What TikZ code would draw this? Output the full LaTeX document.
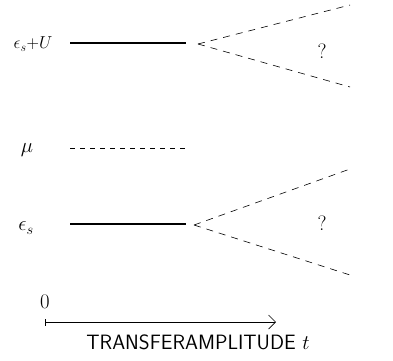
\documentclass[tikz,border=0pt]{standalone}
\usepackage{amsmath}
\usetikzlibrary{arrows.meta}

\begin{document}
\begin{tikzpicture}[x=1pt, y=1pt, >={Straight Barb[length=7pt]}, font=\LARGE,
  level/.style={line width=1.1pt},
  fan/.style={dashed, dash pattern=on 7pt off 6pt, line width=0.6pt}]

\useasboundingbox (0,0) rectangle (393,360);

% upper level eps_s + U, splitting into a band
\node (lU) at (33,316) {$\epsilon_s{+}U$};
\coordinate (U0) at (70,317);
\coordinate (U1) at (186,317);
\draw[level] (U0) -- (U1);
\coordinate (Ua) at (198,316);
\coordinate (Uhi) at (350,355);
\coordinate (Ulo) at (350,273);
\draw[fan] (Ua) -- (Uhi);
\draw[fan] (Ua) -- (Ulo);
\node[font=\huge] (qU) at (322,309) {?};

% chemical potential
\node[font=\huge] (lmu) at (27,210) {$\mu$};
\coordinate (m0) at (70,212);
\coordinate (m1) at (188,212);
\draw[dashed, dash pattern=on 5pt off 5pt, line width=0.6pt] (m0) -- (m1);

% lower level eps_s, splitting into a band
\node[font=\huge] (ls) at (26,132) {$\epsilon_s$};
\coordinate (s0) at (70,136);
\coordinate (s1) at (186,136);
\draw[level] (s0) -- (s1);
\coordinate (sa) at (194,135);
\coordinate (shi) at (350,191);
\coordinate (slo) at (350,85);
\draw[fan] (sa) -- (shi);
\draw[fan] (sa) -- (slo);
\node[font=\huge] (qs) at (322,137) {?};

% hopping axis
\node[font=\huge] (zero) at (45,58) {$0$};
\coordinate (t0) at (45,38);
\coordinate (t1) at (276,38);
\draw[{Bar[width=7pt]}->, line width=0.7pt] (t0) -- (t1);
\node[font=\huge\sffamily] (tlab) at (198,18) {TRANSFERAMPLITUDE $t$};

\end{tikzpicture}
\end{document}
